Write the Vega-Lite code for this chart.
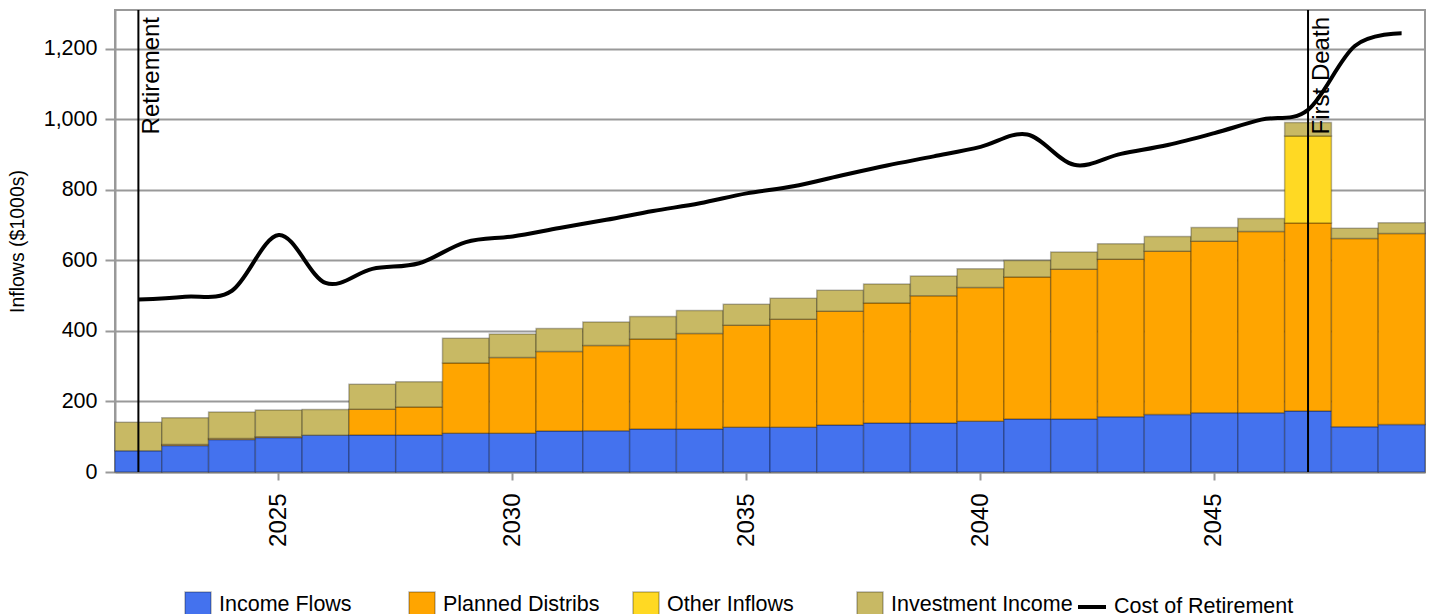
{
  "$schema": "https://vega.github.io/schema/vega-lite/v6.json",
  "width": 1310,
  "height": 462,
  "autosize": {"type": "none"},
  "padding": {"left": 115, "top": 10, "right": 5, "bottom": 142},
  "config": {
    "font": "Liberation Sans",
    "view": {"stroke": "#999", "strokeWidth": 2},
    "axis": {
      "labelFont": "Liberation Sans",
      "labelColor": "#000",
      "titleFont": "Liberation Sans",
      "titleFontSize": 19.5,
      "titleFontWeight": "normal",
      "titleColor": "#000",
      "domainColor": "#999",
      "domainWidth": 2,
      "tickColor": "#999",
      "tickWidth": 2,
      "tickSize": 8,
      "gridColor": "#999",
      "gridWidth": 2
    },
    "axisY": {"labelFontSize": 21.5, "format": ",d", "tickSize": 10},
    "axisX": {"labelFontSize": 24},
    "legend": {
      "labelFont": "Liberation Sans",
      "labelFontSize": 21.5,
      "labelColor": "#000",
      "labelLimit": 400,
      "orient": "none",
      "direction": "horizontal",
      "title": null
    }
  },
  "datasets": {
    "flows": [
      {"year": 2022, "Income Flows": 60, "Planned Distribs": 0, "Other Inflows": 0, "Investment Income": 81, "Cost of Retirement": 489},
      {"year": 2023, "Income Flows": 75, "Planned Distribs": 3, "Other Inflows": 0, "Investment Income": 76, "Cost of Retirement": 497},
      {"year": 2024, "Income Flows": 92, "Planned Distribs": 3, "Other Inflows": 0, "Investment Income": 75, "Cost of Retirement": 514},
      {"year": 2025, "Income Flows": 98, "Planned Distribs": 2, "Other Inflows": 0, "Investment Income": 76, "Cost of Retirement": 672},
      {"year": 2026, "Income Flows": 104, "Planned Distribs": 0, "Other Inflows": 0, "Investment Income": 73, "Cost of Retirement": 536},
      {"year": 2027, "Income Flows": 105, "Planned Distribs": 73, "Other Inflows": 0, "Investment Income": 71, "Cost of Retirement": 576},
      {"year": 2028, "Income Flows": 105, "Planned Distribs": 79, "Other Inflows": 0, "Investment Income": 72, "Cost of Retirement": 592},
      {"year": 2029, "Income Flows": 110, "Planned Distribs": 199, "Other Inflows": 0, "Investment Income": 70, "Cost of Retirement": 652},
      {"year": 2030, "Income Flows": 110, "Planned Distribs": 215, "Other Inflows": 0, "Investment Income": 66, "Cost of Retirement": 668},
      {"year": 2031, "Income Flows": 116, "Planned Distribs": 226, "Other Inflows": 0, "Investment Income": 65, "Cost of Retirement": 692},
      {"year": 2032, "Income Flows": 117, "Planned Distribs": 242, "Other Inflows": 0, "Investment Income": 66, "Cost of Retirement": 715},
      {"year": 2033, "Income Flows": 122, "Planned Distribs": 255, "Other Inflows": 0, "Investment Income": 64, "Cost of Retirement": 740},
      {"year": 2034, "Income Flows": 122, "Planned Distribs": 271, "Other Inflows": 0, "Investment Income": 65, "Cost of Retirement": 762},
      {"year": 2035, "Income Flows": 127, "Planned Distribs": 289, "Other Inflows": 0, "Investment Income": 60, "Cost of Retirement": 790},
      {"year": 2036, "Income Flows": 127, "Planned Distribs": 306, "Other Inflows": 0, "Investment Income": 60, "Cost of Retirement": 810},
      {"year": 2037, "Income Flows": 133, "Planned Distribs": 323, "Other Inflows": 0, "Investment Income": 59, "Cost of Retirement": 840},
      {"year": 2038, "Income Flows": 139, "Planned Distribs": 340, "Other Inflows": 0, "Investment Income": 54, "Cost of Retirement": 869},
      {"year": 2039, "Income Flows": 139, "Planned Distribs": 361, "Other Inflows": 0, "Investment Income": 56, "Cost of Retirement": 895},
      {"year": 2040, "Income Flows": 144, "Planned Distribs": 379, "Other Inflows": 0, "Investment Income": 53, "Cost of Retirement": 922},
      {"year": 2041, "Income Flows": 150, "Planned Distribs": 403, "Other Inflows": 0, "Investment Income": 47, "Cost of Retirement": 957},
      {"year": 2042, "Income Flows": 150, "Planned Distribs": 425, "Other Inflows": 0, "Investment Income": 49, "Cost of Retirement": 871},
      {"year": 2043, "Income Flows": 157, "Planned Distribs": 446, "Other Inflows": 0, "Investment Income": 44, "Cost of Retirement": 902},
      {"year": 2044, "Income Flows": 163, "Planned Distribs": 463, "Other Inflows": 0, "Investment Income": 42, "Cost of Retirement": 927},
      {"year": 2045, "Income Flows": 168, "Planned Distribs": 486, "Other Inflows": 0, "Investment Income": 39, "Cost of Retirement": 961},
      {"year": 2046, "Income Flows": 168, "Planned Distribs": 514, "Other Inflows": 0, "Investment Income": 37, "Cost of Retirement": 999},
      {"year": 2047, "Income Flows": 173, "Planned Distribs": 533, "Other Inflows": 247, "Investment Income": 38, "Cost of Retirement": 1027},
      {"year": 2048, "Income Flows": 128, "Planned Distribs": 534, "Other Inflows": 0, "Investment Income": 29, "Cost of Retirement": 1208},
      {"year": 2049, "Income Flows": 135, "Planned Distribs": 541, "Other Inflows": 0, "Investment Income": 31, "Cost of Retirement": 1244}
    ],
    "events": [
      {"year": 2022, "label": "Retirement"},
      {"year": 2047, "label": "First Death"}
    ]
  },
  "data": {"name": "flows"},
  "encoding": {
    "x": {
      "field": "year",
      "type": "ordinal",
      "scale": {"paddingInner": 0, "paddingOuter": 0},
      "axis": {
        "title": null,
        "values": [2025, 2030, 2035, 2040, 2045],
        "labelAngle": 270,
        "labelAlign": "right",
        "labelBaseline": "middle",
        "labelPadding": 13,
        "grid": false
      }
    }
  },
  "layer": [
    {
      "transform": [
        {"fold": ["Income Flows", "Planned Distribs", "Other Inflows", "Investment Income"], "as": ["series", "amount"]},
        {"filter": "datum.amount > 0"},
        {"calculate": "indexof(['Income Flows', 'Planned Distribs', 'Other Inflows', 'Investment Income'], datum.series)", "as": "stackOrder"}
      ],
      "mark": {"type": "bar", "stroke": "#000", "strokeOpacity": 0.28, "strokeWidth": 1.5},
      "encoding": {
        "y": {
          "field": "amount",
          "type": "quantitative",
          "stack": "zero",
          "title": "Inflows ($1000s)",
          "scale": {"domain": [0, 1310], "nice": false},
          "axis": {"values": [0, 200, 400, 600, 800, 1000, 1200], "format": ",d", "grid": true, "labelPadding": 8, "titlePadding": 16}
        },
        "order": {"field": "stackOrder", "type": "quantitative", "sort": "ascending"},
        "fill": {
          "field": "series",
          "type": "nominal",
          "sort": ["Income Flows", "Planned Distribs", "Other Inflows", "Investment Income"],
          "scale": {
            "domain": ["Income Flows", "Planned Distribs", "Other Inflows", "Investment Income"],
            "range": ["#4472ee", "#ffa500", "#ffd923", "#c8b964"]
          },
          "legend": {
            "legendX": 69,
            "legendY": 581,
            "symbolType": "square",
            "symbolSize": 676,
            "symbolStrokeColor": "rgba(0,0,0,0.28)",
            "symbolStrokeWidth": 1.5,
            "symbolOpacity": 1,
            "gridAlign": "all",
            "columnPadding": 5,
            "labelOffset": 7
          }
        }
      }
    },
    {
      "mark": {"type": "line", "interpolate": "cardinal", "strokeWidth": 4},
      "encoding": {
        "y": {
          "field": "Cost of Retirement",
          "type": "quantitative",
          "title": "Inflows ($1000s)",
          "scale": {"domain": [0, 1310], "nice": false},
          "axis": {"values": [0, 200, 400, 600, 800, 1000, 1200], "format": ",d", "grid": true, "labelPadding": 8, "titlePadding": 16}
        },
        "stroke": {
          "datum": "Cost of Retirement",
          "type": "nominal",
          "scale": {"range": ["#000"]},
          "legend": {
            "legendX": 961,
            "legendY": 581,
            "symbolType": "stroke",
            "symbolSize": 784,
            "symbolStrokeWidth": 4,
            "labelOffset": 6
          }
        }
      }
    },
    {
      "data": {"name": "events"},
      "mark": {"type": "rule", "color": "#000", "strokeWidth": 2},
      "encoding": {}
    },
    {
      "data": {"name": "events"},
      "mark": {"type": "text", "angle": 270, "align": "right", "baseline": "top", "dx": -7, "dy": 2, "fontSize": 24, "color": "#000"},
      "encoding": {
        "y": {
          "datum": 1310,
          "type": "quantitative",
          "title": "Inflows ($1000s)",
          "scale": {"domain": [0, 1310], "nice": false},
          "axis": {"values": [0, 200, 400, 600, 800, 1000, 1200], "format": ",d", "grid": true, "labelPadding": 8, "titlePadding": 16}
        },
        "text": {"field": "label"}
      }
    }
  ]
}
